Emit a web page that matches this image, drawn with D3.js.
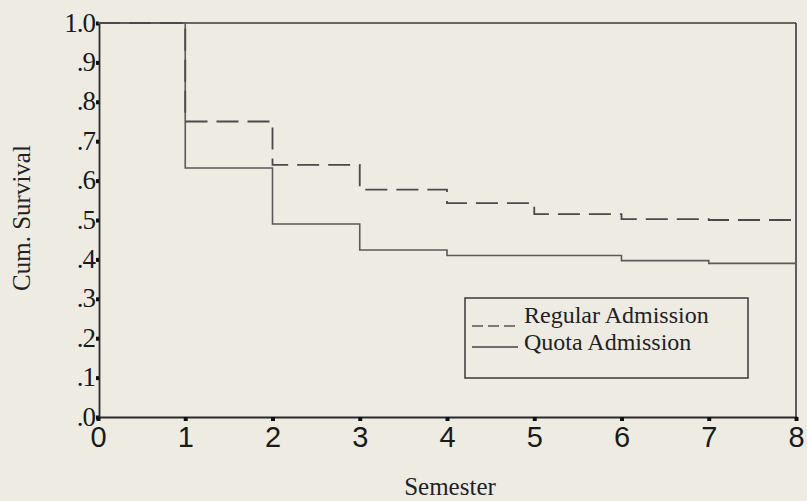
<!DOCTYPE html>
<html><head><meta charset="utf-8">
<script src="https://cdn.jsdelivr.net/npm/d3@7/dist/d3.min.js"></script>
<style>
html,body{margin:0;padding:0;background:#eeebe3;}
svg{display:block;}
</style></head>
<body>
<svg id="c" width="807" height="501"></svg>
<script>
const semesters = [0,1,2,3,4,5,6,7,8];
const regularSurvival = [1.0, 0.75, 0.64, 0.577, 0.543, 0.515, 0.502, 0.50, 0.50];
const quotaSurvival   = [1.0, 0.632, 0.49, 0.424, 0.41, 0.41, 0.397, 0.39, 0.39];
const yTicks = [0,0.1,0.2,0.3,0.4,0.5,0.6,0.7,0.8,0.9,1.0];
const yTickLabels = [".0",".1",".2",".3",".4",".5",".6",".7",".8",".9","1.0"];
const xTicks = [0,1,2,3,4,5,6,7,8];
const seriesNames = ["Regular Admission","Quota Admission"];

const svg = d3.select("#c");
const x = d3.scaleLinear().domain([0,8]).range([98,796]);
const y = d3.scaleLinear().domain([0,1]).range([417,23]);

const serif = "'Liberation Serif','Times New Roman',serif";
const sans = "'Liberation Sans',Arial,sans-serif";

// frame top & right
svg.append("line").attr("x1",x(0)).attr("x2",x(8)).attr("y1",y(1)).attr("y2",y(1))
  .attr("stroke","#3a3a3a").attr("stroke-width",1.6);
svg.append("line").attr("x1",x(8)).attr("x2",x(8)).attr("y1",y(1)).attr("y2",y(0))
  .attr("stroke","#3a3a3a").attr("stroke-width",1.6);

// y axis
const yAxis = svg.append("g").attr("transform",`translate(${x(0)+1},0)`)
  .call(d3.axisLeft(y).tickValues(yTicks).tickSize(3).tickPadding(1)
    .tickFormat((d,i)=>yTickLabels[i]));
yAxis.select(".domain").attr("stroke","#2a2a2a").attr("stroke-width",1.8);
yAxis.selectAll(".tick line").attr("stroke","#111").attr("stroke-width",4);
yAxis.selectAll(".tick text").attr("font-family",serif).attr("font-size",27)
  .attr("fill","#1a1a1a").attr("dy","0.3em").attr("letter-spacing","-1px");

// x axis
const xAxis = svg.append("g").attr("transform",`translate(0,${y(0)})`)
  .call(d3.axisBottom(x).tickValues(xTicks).tickSize(4).tickPadding(5).tickFormat(d3.format("d")));
xAxis.select(".domain").attr("stroke","#2a2a2a").attr("stroke-width",1.8);
xAxis.selectAll(".tick line").attr("stroke","#111").attr("stroke-width",4);
xAxis.selectAll(".tick text").attr("font-family",sans).attr("font-size",29)
  .attr("fill","#1a1a1a");

// curves
const line = d3.line().x((d,i)=>x(semesters[i])).y(d=>y(d)).curve(d3.curveStepAfter);
svg.append("path").datum(quotaSurvival).attr("d",line).attr("fill","none")
  .attr("stroke","#5a5a5a").attr("stroke-width",1.6);
svg.append("path").datum(regularSurvival).attr("d",line).attr("fill","none")
  .attr("stroke","#4a4a4a").attr("stroke-width",1.8).attr("stroke-dasharray","22,9");

// axis titles
svg.append("text").attr("transform","translate(30,218) rotate(-90)")
  .attr("text-anchor","middle").attr("font-family",serif).attr("font-size",25)
  .attr("fill","#222").text("Cum. Survival");
svg.append("text").attr("x",450).attr("y",495).attr("text-anchor","middle")
  .attr("font-family",serif).attr("font-size",25).attr("fill","#222").text("Semester");

// legend
const lg = svg.append("g");
lg.append("rect").attr("x",465).attr("y",298).attr("width",283).attr("height",80)
  .attr("fill","none").attr("stroke","#3a3a3a").attr("stroke-width",1.5);
lg.append("line").attr("x1",472).attr("x2",518).attr("y1",326).attr("y2",326)
  .attr("stroke","#555").attr("stroke-width",1.5).attr("stroke-dasharray","11,5");
lg.append("line").attr("x1",472).attr("x2",518).attr("y1",347).attr("y2",347)
  .attr("stroke","#444").attr("stroke-width",1.5);
lg.selectAll("text.lt").data(seriesNames).enter().append("text")
  .attr("x",524).attr("y",(d,i)=>323+i*27)
  .attr("font-family",serif).attr("font-size",24).attr("fill","#222").text(d=>d);
</script>
</body></html>
